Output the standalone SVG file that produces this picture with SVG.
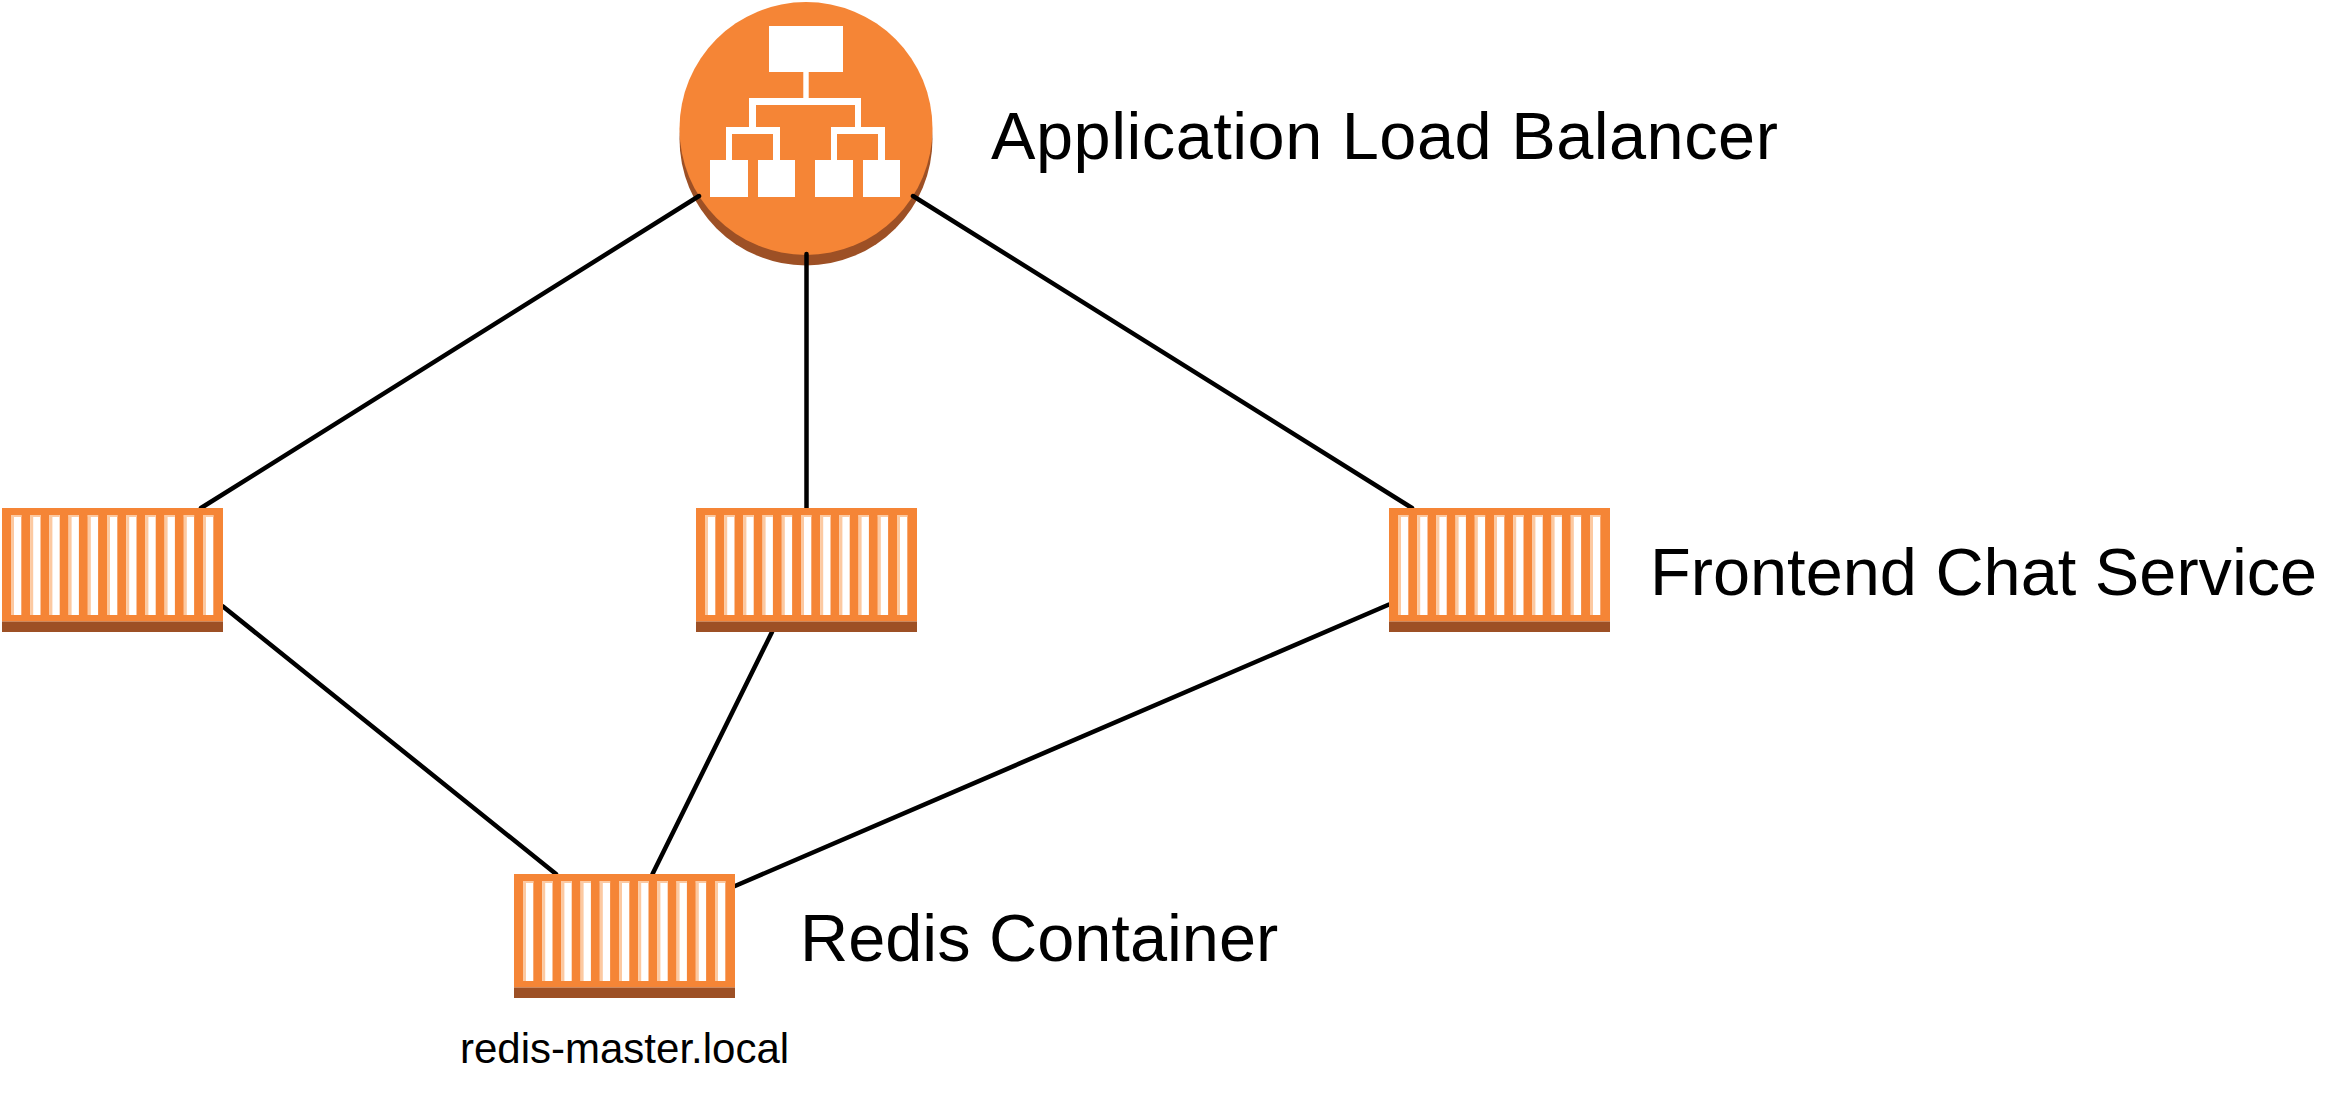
<svg xmlns="http://www.w3.org/2000/svg" xmlns:xlink="http://www.w3.org/1999/xlink" width="2341" height="1095" viewBox="0 0 2341 1095">
<style>
.orange{fill:#F58536}.brown{fill:#9D5025}.white{fill:#FFFFFF}.strip{fill:#FCC9A1}
.conn line{stroke:#000;stroke-width:4.5;stroke-linecap:round;fill:none}
text{font-family:"Liberation Sans",Arial,sans-serif;fill:#000}
.big{font-size:66.7px}.small{font-size:42px}
</style>
<defs>
<g id="slot"><rect class="white" x="0" y="0" width="10.3" height="100"/><rect class="strip" x="0" y="0" width="3" height="100"/><rect class="strip" x="0" y="0" width="10.3" height="2"/></g>
<g id="container">
<rect class="orange" x="0" y="0" width="221" height="113.5"/>
<rect class="brown" x="0" y="113.5" width="221" height="10.5"/>
<use href="#slot" x="9" y="7"/><use href="#slot" x="28.2" y="7"/><use href="#slot" x="47.4" y="7"/><use href="#slot" x="66.6" y="7"/><use href="#slot" x="85.8" y="7"/><use href="#slot" x="105" y="7"/><use href="#slot" x="124.2" y="7"/><use href="#slot" x="143.4" y="7"/><use href="#slot" x="162.6" y="7"/><use href="#slot" x="181.8" y="7"/><use href="#slot" x="201" y="7"/>
</g>
</defs>
<rect width="2341" height="1095" fill="#FFFFFF"/>
<g id="alb">
<circle class="brown" cx="806" cy="139" r="126.5"/>
<circle class="orange" cx="806" cy="128.5" r="126.5"/>
<path class="white" d="M769 26H843V72H808.7V98H861V127H885V160H900V197H863V160H878V134H837V160H853V197H815V160H831V127H855V105H756V127H780V160H795V197H758V160H773V134H732V160H748V197H710V160H726V127H749V98H803.3V72H769Z"/>
</g>
<g id="connectors" class="conn">
<line x1="699" y1="196" x2="201" y2="508"/>
<line x1="806.5" y1="254" x2="806.5" y2="508"/>
<line x1="913" y1="196" x2="1412" y2="508"/>
<line x1="223" y1="606.5" x2="556" y2="874"/>
<line x1="772" y1="632" x2="652.5" y2="874"/>
<line x1="1389" y1="604.5" x2="735" y2="886"/>
</g>
<g id="frontend-1"><use href="#container" x="2" y="508"/></g>
<g id="frontend-2"><use href="#container" x="696" y="508"/></g>
<g id="frontend-3"><use href="#container" x="1389" y="508"/></g>
<g id="redis"><use href="#container" x="514" y="874"/></g>
<g id="labels">
<text class="big" x="991" y="159" letter-spacing="0.5">Application Load Balancer</text>
<text class="big" x="1650" y="595">Frontend Chat Service</text>
<text class="big" x="800" y="961">Redis Container</text>
<text class="small" x="460" y="1063">redis-master.local</text>
</g>
</svg>
